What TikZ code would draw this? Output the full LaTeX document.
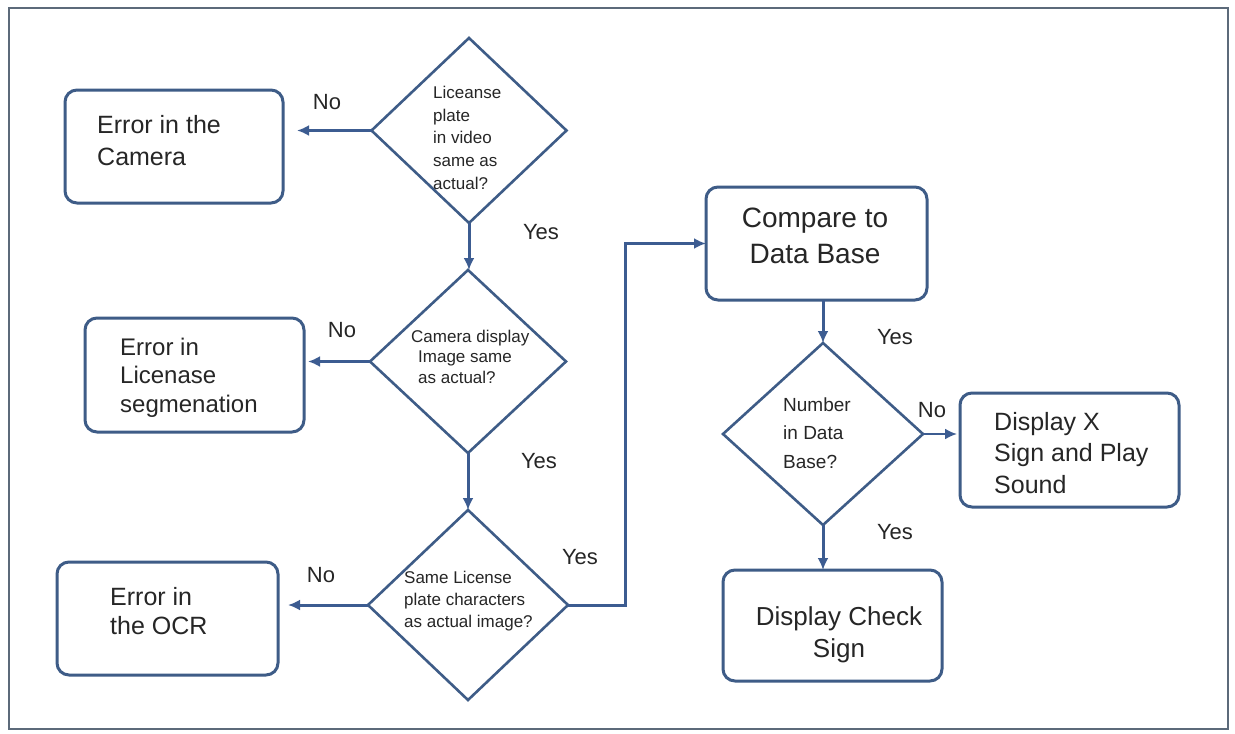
\documentclass[tikz,border=0pt]{standalone}
\usepackage{fontspec}
\setmainfont{Liberation Sans}
\usetikzlibrary{arrows.meta,shapes.geometric}
\definecolor{boxc}{RGB}{62,92,135}
\definecolor{arrc}{RGB}{60,92,145}
\definecolor{framec}{RGB}{92,106,122}
\definecolor{txtc}{RGB}{38,38,38}
\begin{document}
\begin{tikzpicture}[x=1pt,y=-1pt,
  box/.style={draw=boxc, line width=3pt, rounded corners=12pt, inner sep=0pt, outer sep=0pt},
  dia/.style={draw=boxc, line width=2.6pt, shape=diamond, inner sep=0pt, outer sep=0pt},
  arr/.style={draw=arrc, line width=3pt, -{Latex[length=12pt,width=11pt]}},
  txt/.style={text=txtc, inner sep=0pt, align=left, anchor=north west},
  ctxt/.style={text=txtc, inner sep=0pt, align=center, anchor=north},
  lab/.style={text=txtc, inner sep=0pt, font=\fontsize{22}{26}\selectfont},
]
\fill[white] (0,0) rectangle (1235,734);
\useasboundingbox (0,0) rectangle (1235,734);
\draw[framec, line width=2.5pt] (9,8) rectangle (1228,729);

% decision diamonds
\node[dia, minimum width=195pt, minimum height=185pt] (d1) at (469,130.5) {};
\node[dia, minimum width=196pt, minimum height=183pt] (d2) at (468,361.5) {};
\node[dia, minimum width=200pt, minimum height=190pt] (d3) at (468,605) {};
\node[dia, minimum width=200pt, minimum height=182pt] (d4) at (823,434) {};

% boxes
\node[box, minimum width=218pt, minimum height=113pt] (b1) at (174,146.5) {};
\node[box, minimum width=219pt, minimum height=114pt] (b2) at (194.5,375) {};
\node[box, minimum width=221pt, minimum height=113pt] (b3) at (167.5,618.5) {};
\node[box, minimum width=221pt, minimum height=113pt] (cmp) at (816.5,243.5) {};
\node[box, minimum width=219pt, minimum height=114pt] (bx) at (1069.5,450) {};
\node[box, minimum width=219pt, minimum height=111pt] (bc) at (832.5,625.5) {};

% texts
\node[txt, font=\fontsize{25}{32}\selectfont] (t1) at (97,115) {Error in the\\Camera};
\node[txt, font=\fontsize{24}{28.5}\selectfont] (t2) at (120,337.7) {Error in\\Licenase\\segmenation};
\node[txt, font=\fontsize{25}{29}\selectfont] (t3) at (110,587) {Error in\\the OCR};
\node[ctxt, font=\fontsize{28}{36}\selectfont] (tc) at (815,207.8) {Compare to\\Data Base};
\node[txt, font=\fontsize{25}{31.5}\selectfont] (tx) at (994,412) {Display X\\Sign and Play\\Sound};
\node[ctxt, font=\fontsize{26}{32}\selectfont] (tk) at (839,606.3) {Display Check\\Sign};
\node[txt, font=\fontsize{17}{22.75}\selectfont] (td1) at (433,85.8) {Liceanse\\plate\\in video\\same as\\actual?};
\node[txt, font=\fontsize{17}{20.5}\selectfont] (td2) at (411,329.8) {Camera display\\\hspace*{7pt}Image same\\\hspace*{7pt}as actual?};
\node[txt, font=\fontsize{17}{22}\selectfont] (td3) at (404,570.8) {Same License\\plate characters\\as actual image?};
\node[txt, font=\fontsize{19}{28.5}\selectfont] (td4) at (783,397.3) {Number\\in Data\\Base?};

% connectors
\draw[arr, shorten >=14pt] (d1.west) -- (d1.west -| b1.east);
\draw[arr, shorten >=4pt] (d2.west) -- (d2.west -| b2.east);
\draw[arr, shorten >=10pt] (d3.west) -- (d3.west -| b3.east);
\draw[arr] (d1.south) -- (d1.south |- d2.north);
\draw[arr] (d2.south) -- (d3.north);
\draw[arr] (d3.east) -- ++(57,0) |- (cmp.west);
\draw[arr] (d4.north |- cmp.south) -- (d4.north);
\draw[arr, line width=2.2pt, shorten >=3pt] (d4.east) -- (d4.east -| bx.west);
\draw[arr] (d4.south) -- (d4.south |- bc.north);

% labels
\node[lab] (n1) at (327,102) {No};
\node[lab] (n2) at (342,330) {No};
\node[lab] (n3) at (321,575) {No};
\node[lab] (n4) at (932,410) {No};
\node[lab] (y1) at (541,232) {Yes};
\node[lab] (y2) at (539,461) {Yes};
\node[lab] (y3) at (580,557) {Yes};
\node[lab] (y4) at (895,337) {Yes};
\node[lab] (y5) at (895,532) {Yes};
\end{tikzpicture}
\end{document}
